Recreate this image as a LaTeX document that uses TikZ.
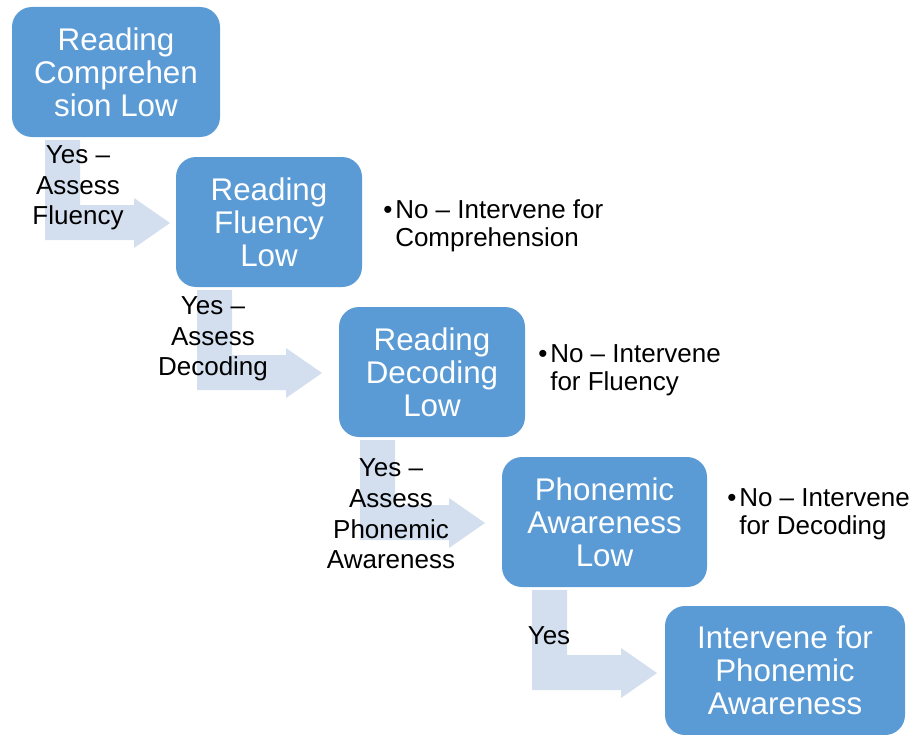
\documentclass[tikz,border=0pt]{standalone}
\usepackage{fontspec}
\setmainfont{Liberation Sans}
\definecolor{boxblue}{HTML}{5B9BD5}
\definecolor{arrowblue}{HTML}{D3DFEE}
\newcommand{\bul}{\makebox[9pt][l]{\textbullet}}
\begin{document}
\begin{tikzpicture}[x=0.75pt,y=-0.75pt,
  box/.style={fill=boxblue, rounded corners=15pt, inner sep=0pt, align=center,
    text=white, font=\fontsize{23.5}{24.75}\selectfont, minimum height=97.5pt},
  lbl/.style={align=center, text=black, inner sep=0pt, font=\fontsize{19.5}{23}\selectfont},
  note/.style={anchor=west, inner sep=0pt, font=\fontsize{19.5}{20.6}\selectfont},
  bentarrow/.pic={\fill[arrowblue] (0,0) -- (35,0) -- (35,65) -- (89,65) -- (89,58)
     -- (125,83) -- (89,108) -- (89,100) -- (0,100) -- cycle;}
]
\useasboundingbox (0,0) rectangle (914,735);
% arrows
\pic at (45,140) {bentarrow};
\pic at (197,290) {bentarrow};
\pic at (360,440) {bentarrow};
\pic at (532,590) {bentarrow};
% boxes
\node[box, minimum width=156pt] (b1) at (116,72) {Reading\\Comprehen\\sion Low};
\node[box, minimum width=139.5pt] (b2) at (269,222) {Reading\\Fluency\\Low};
\node[box, minimum width=139.5pt] (b3) at (432,372) {Reading\\Decoding\\Low};
\node[box, minimum width=153.75pt] (b4) at (604.5,522) {Phonemic\\Awareness\\Low};
\node[box, minimum width=180pt, minimum height=96.75pt] (b5) at (785,670.5) {Intervene for\\Phonemic\\Awareness};
% labels
\node[lbl] (l1) at (78,188) {Yes --\\Assess\\Fluency};
\node[lbl] (l2) at (213,339) {Yes --\\Assess\\Decoding};
\node[lbl] (l3) at (391,514) {Yes --\\Assess\\Phonemic\\Awareness};
\node[lbl] (l4) at (549,636) {Yes};
% notes
\node[note] (n1) at (383,227) {\begin{tabular}{@{}l@{}l@{}}\bul&No -- Intervene for\\&Comprehension\end{tabular}};
\node[note] (n2) at (538,371) {\begin{tabular}{@{}l@{}l@{}}\bul&No -- Intervene\\&for Fluency\end{tabular}};
\node[note] (n3) at (727,515) {\begin{tabular}{@{}l@{}l@{}}\bul&No -- Intervene\\&for Decoding\end{tabular}};
\end{tikzpicture}
\end{document}
